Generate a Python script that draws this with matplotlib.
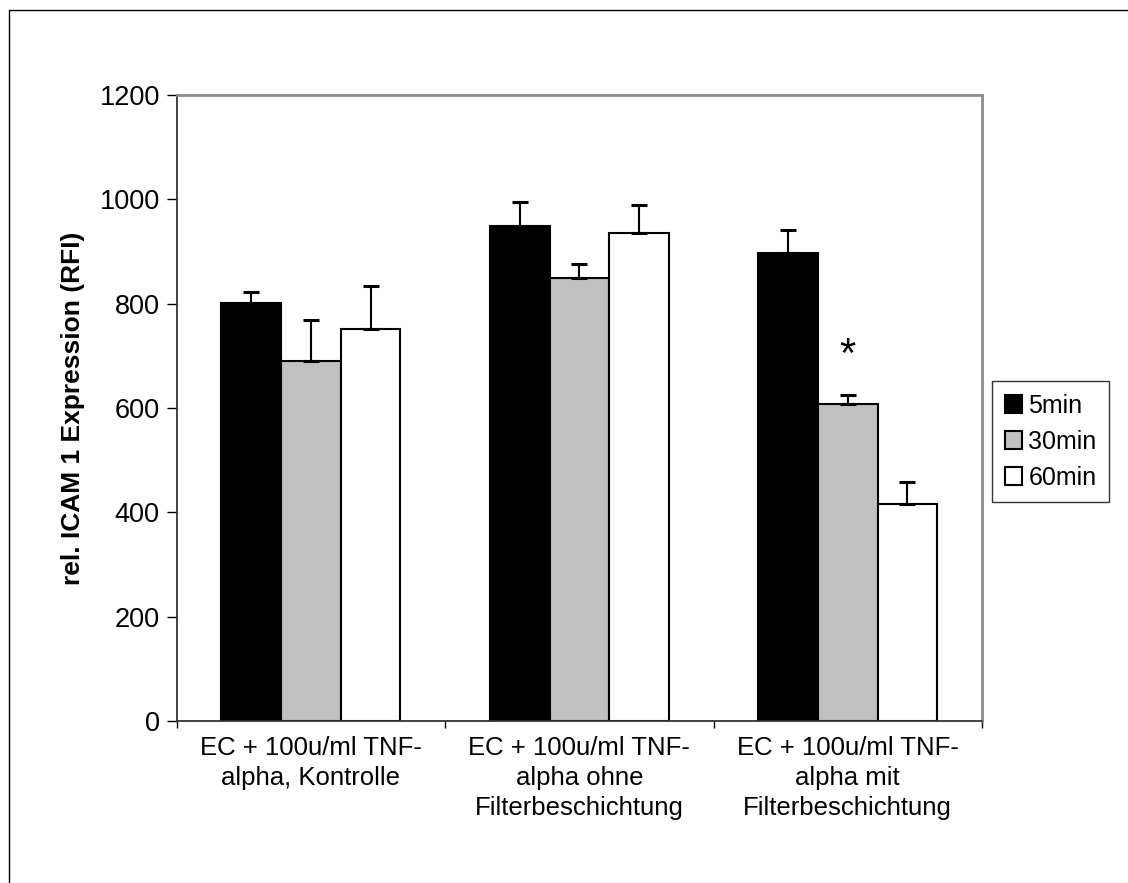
import numpy as np
import matplotlib
matplotlib.use("Agg")
import matplotlib.pyplot as plt
from matplotlib.patches import Patch, Rectangle

plt.rcParams['font.family'] = ['Liberation Sans', 'DejaVu Sans']

# Data
categories = ["EC + 100u/ml TNF-\nalpha, Kontrolle",
              "EC + 100u/ml TNF-\nalpha ohne\nFilterbeschichtung",
              "EC + 100u/ml TNF-\nalpha mit\nFilterbeschichtung"]
series_names = ["5min", "30min", "60min"]
values_5min = [802, 949, 898]
values_30min = [690, 849, 608]
values_60min = [752, 935, 416]
err_5min = [21, 45, 44]
err_30min = [78, 27, 17]
err_60min = [81, 54, 43]
yticks = [0, 200, 400, 600, 800, 1000, 1200]
significance_label = "*"

series_values = [values_5min, values_30min, values_60min]
series_errs = [err_5min, err_30min, err_60min]
series_colors = ["#000000", "#C0C0C0", "#FFFFFF"]

W, H = 1128, 883
fig = plt.figure(figsize=(W / 100, H / 100), dpi=100)
ax = fig.add_axes([176.7 / W, 1 - 721 / H, (982 - 176.7) / W, (721 - 95) / H])

x = np.arange(len(categories))
bar_w = 1 / 4.5  # gap width 150%
for i, (vals, errs, col) in enumerate(zip(series_values, series_errs, series_colors)):
    pos = x + (i - 1) * bar_w
    ax.bar(pos, vals, width=bar_w, color=col, edgecolor="black",
           linewidth=1.5, zorder=2)
    ax.errorbar(pos, vals, yerr=[np.zeros(len(vals)), errs], fmt="none",
                ecolor="black", elinewidth=1.5, capsize=5.5, capthick=2.2,
                zorder=3)

# Significance marker above the 30min bar of the third group
ax.text(x[2], 700, significance_label, ha="center", va="center",
        fontsize=30, color="black")

ax.set_xlim(-0.5, len(categories) - 0.5)
ax.set_ylim(0, 1200)
ax.set_yticks(yticks)
ax.set_yticklabels([str(t) for t in yticks], fontsize=19.5)
ax.tick_params(axis="y", direction="out", length=7.2, width=1, pad=5)

ax.set_xticks(x)
ax.set_xticklabels(categories, fontsize=18.5, linespacing=1.3)
ax.tick_params(axis="x", which="major", length=0, pad=11)
ax.set_xticks(np.arange(-0.5, len(categories), 1.0), minor=True)
ax.tick_params(axis="x", which="minor", direction="out", length=5, width=1)

ax.set_ylabel("rel. ICAM 1 Expression (RFI)", fontsize=19, fontweight="bold",
              labelpad=10)

for side in ("left", "bottom"):
    ax.spines[side].set_color("#333333")
    ax.spines[side].set_linewidth(1.3)
for side in ("top", "right"):
    ax.spines[side].set_color("#8c8c8c")
    ax.spines[side].set_linewidth(2)

handles = [Patch(facecolor=c, edgecolor="black", linewidth=1.5) for c in series_colors]
leg = fig.legend(handles, series_names, loc="upper left",
                 bbox_to_anchor=(992 / W, 1 - 381 / H), bbox_transform=fig.transFigure,
                 fontsize=18, frameon=True, fancybox=False, borderaxespad=0,
                 handlelength=0.7, handleheight=0.7, handletextpad=0.25,
                 labelspacing=0.48, borderpad=0.5)
leg.get_frame().set_edgecolor("black")
leg.get_frame().set_linewidth(1)

# Outer chart border
fig.patches.append(Rectangle((8.5 / W, -0.05), 1.1, 1 - 9.5 / H + 0.05,
                             transform=fig.transFigure, fill=False,
                             edgecolor="black", linewidth=1))

fig.savefig("out.png", dpi=100)
